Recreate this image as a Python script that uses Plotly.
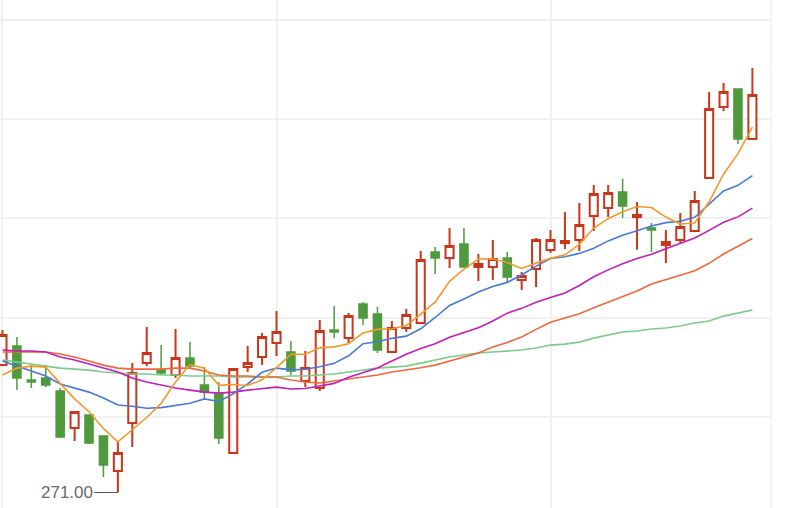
import plotly.graph_objects as go

idx = list(range(53))

open_ = [277.43, 278.38, 276.67, 276.77, 276.12, 274.25, 274.91, 273.85, 272.08, 274.50,
         277.53, 277.17, 276.92, 277.78, 276.42, 275.96, 272.99, 277.33, 277.83, 278.53,
         278.08, 276.62, 276.27, 279.19, 278.79, 280.50, 280.00, 278.08, 279.29, 279.54,
         283.12, 282.82, 283.52, 282.37, 282.37, 282.82, 281.71, 282.26, 283.22, 283.57,
         283.73, 284.94, 285.34, 286.15, 284.89, 284.33, 283.47, 283.73, 284.18, 286.85,
         290.43, 291.34, 288.82]
high = [279.19, 278.84, 277.43, 277.43, 276.27, 275.11, 274.93, 273.87, 273.55, 277.53,
        279.34, 278.43, 279.24, 278.59, 277.33, 276.57, 277.27, 278.38, 279.04, 280.15,
        278.64, 278.13, 279.69, 280.40, 280.05, 280.60, 280.35, 279.64, 280.25, 283.17,
        283.37, 284.33, 284.33, 283.02, 283.73, 283.12, 282.11, 283.83, 284.23, 285.14,
        285.59, 286.50, 286.50, 286.80, 285.64, 284.58, 284.23, 285.09, 286.20, 291.19,
        291.64, 291.36, 292.39]
low = [277.40, 276.17, 276.27, 276.32, 273.75, 273.60, 273.44, 271.78, 271.00, 273.29,
       277.38, 276.92, 276.77, 277.27, 275.71, 273.44, 272.97, 277.07, 277.43, 277.88,
       276.92, 276.32, 276.12, 278.79, 278.53, 279.44, 278.03, 278.06, 279.09, 279.52,
       282.01, 282.31, 282.35, 281.66, 281.71, 281.61, 281.21, 281.36, 283.07, 283.27,
       283.17, 284.18, 284.89, 284.83, 283.23, 283.12, 282.57, 283.57, 284.16, 286.83,
       290.23, 288.56, 288.80]
close = [278.94, 276.77, 276.57, 276.42, 273.80, 275.06, 273.49, 272.39, 272.99, 277.02,
         278.03, 277.02, 277.78, 277.38, 276.07, 273.75, 277.22, 277.53, 278.84, 279.09,
         277.12, 277.27, 279.14, 279.09, 279.90, 279.79, 278.18, 279.29, 279.95, 282.72,
         282.82, 283.42, 282.37, 282.52, 282.77, 281.86, 281.91, 283.73, 283.73, 283.68,
         284.48, 286.04, 286.09, 285.44, 284.99, 284.23, 283.63, 284.38, 285.69, 290.33,
         291.19, 288.82, 291.03]

ma5 = [276.92, 277.27, 277.37, 277.32, 276.50, 275.72, 275.07, 274.23, 273.55, 274.19,
       274.78, 275.49, 276.57, 277.45, 277.26, 276.40, 276.44, 276.39, 276.68, 277.29,
       277.96, 277.97, 278.29, 278.34, 278.50, 279.04, 279.22, 279.25, 279.42, 279.99,
       280.59, 281.64, 282.26, 282.77, 282.78, 282.59, 282.29, 282.56, 282.80, 282.98,
       283.51, 284.33, 284.80, 285.15, 285.41, 285.36, 284.88, 284.53, 284.58, 285.65,
       287.04, 288.08, 289.41]
ma10 = [277.63, 277.37, 277.12, 276.87, 276.47, 276.27, 276.06, 275.76, 275.41, 275.35,
        275.25, 275.28, 275.40, 275.50, 275.72, 275.59, 275.97, 276.48, 277.06, 277.27,
        277.18, 277.21, 277.34, 277.51, 277.89, 278.50, 278.60, 278.77, 278.88, 279.25,
        279.82, 280.43, 280.75, 281.10, 281.38, 281.59, 281.96, 282.41, 282.79, 282.88,
        283.05, 283.31, 283.68, 283.97, 284.19, 284.43, 284.60, 284.67, 284.87, 285.53,
        286.20, 286.48, 286.97]
ma20 = [278.18, 278.13, 278.13, 278.08, 277.83, 277.68, 277.48, 277.27, 277.07, 276.77,
        276.57, 276.42, 276.27, 276.16, 276.06, 276.01, 276.06, 276.16, 276.22, 276.31,
        276.22, 276.24, 276.37, 276.50, 276.81, 277.05, 277.28, 277.63, 277.97, 278.26,
        278.50, 278.82, 279.05, 279.30, 279.64, 280.04, 280.28, 280.59, 280.83, 281.06,
        281.43, 281.87, 282.22, 282.53, 282.79, 283.01, 283.28, 283.54, 283.83, 284.21,
        284.62, 284.89, 285.33]
ma30 = [278.08, 278.08, 278.08, 278.08, 277.98, 277.83, 277.63, 277.42, 277.27, 277.22,
        277.22, 277.22, 277.27, 277.27, 277.12, 276.92, 276.87, 276.87, 276.82, 276.82,
        276.67, 276.57, 276.52, 276.62, 276.72, 276.82, 276.92, 277.07, 277.17, 277.29,
        277.42, 277.64, 277.83, 278.03, 278.33, 278.56, 278.84, 279.22, 279.58, 279.80,
        280.01, 280.31, 280.59, 280.86, 281.16, 281.51, 281.72, 281.95, 282.18, 282.55,
        283.02, 283.41, 283.80]
ma60 = [277.68, 277.58, 277.48, 277.37, 277.27, 277.22, 277.17, 277.07, 277.02, 276.97,
        276.97, 276.92, 276.92, 276.87, 276.87, 276.87, 276.82, 276.82, 276.82, 276.82,
        276.87, 276.87, 276.92, 276.97, 277.07, 277.17, 277.27, 277.32, 277.37, 277.52,
        277.68, 277.83, 277.93, 278.03, 278.08, 278.13, 278.18, 278.28, 278.43, 278.48,
        278.58, 278.78, 278.94, 279.09, 279.14, 279.24, 279.29, 279.39, 279.54, 279.64,
        279.89, 280.04, 280.20]

low_label = "271.00"

UP = "#c8361c"
DOWN = "#4f9a3c"

fig = go.Figure()
fig.add_trace(go.Candlestick(
    x=idx, open=open_, high=high, low=low, close=close,
    increasing=dict(line=dict(color=UP, width=2), fillcolor="#ffffff"),
    decreasing=dict(line=dict(color=DOWN, width=1.5), fillcolor=DOWN),
    whiskerwidth=0, showlegend=False, hoverinfo="skip"))

for vals, col in [(ma60, "#7ccb8c"), (ma30, "#f0683c"), (ma20, "#c51db6"),
                  (ma10, "#4a78d6"), (ma5, "#f2992e")]:
    fig.add_trace(go.Scatter(x=idx, y=vals, mode="lines",
                             line=dict(color=col, width=1.6),
                             showlegend=False, hoverinfo="skip"))

fig.add_annotation(x=8, y=271.00, text=low_label, showarrow=True,
                   arrowhead=0, arrowwidth=1, arrowcolor="#555555",
                   ax=-51, ay=0, standoff=0,
                   font=dict(family="Liberation Sans, Arial, sans-serif", size=17, color="#6a6a6a"))

fig.add_shape(type="line", xref="paper", yref="paper", x0=1, x1=1, y0=0, y1=1,
              line=dict(color="#f0f0f0", width=1.5))

fig.update_layout(
    width=800, height=508,
    margin=dict(l=0, r=29, t=0, b=0),
    paper_bgcolor="white", plot_bgcolor="white",
    boxgap=0.2,
    xaxis=dict(range=[-0.173, 53.29], rangeslider=dict(visible=False),
               tickvals=[0, 19, 38], showticklabels=False, showgrid=True,
               gridcolor="#f0f0f0", gridwidth=1.5, zeroline=False, showline=False, ticks=""),
    yaxis=dict(range=[270.22, 295.82], tick0=274.82, dtick=5, showticklabels=False,
               showgrid=True, gridcolor="#f0f0f0", gridwidth=1.5, zeroline=False, ticks=""),
    hovermode=False,
)

fig.write_html("out.html")
